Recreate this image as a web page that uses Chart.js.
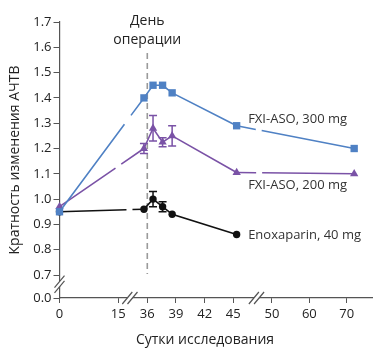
<!DOCTYPE html>
<html>
<head>
<meta charset="utf-8">
<script src="https://cdn.jsdelivr.net/npm/chart.js@4.4.1/dist/chart.umd.min.js"></script>
<style>
  html, body { margin: 0; padding: 0; background: #ffffff; }
  #wrap { width: 380px; height: 355px; position: relative; }
</style>
</head>
<body>
<div id="wrap"><canvas id="c" width="380" height="355"></canvas></div>
<script>
// ---- data ----
const days      = [0, 35.65, 36.6, 37.6, 38.6, 45.35, 72];
const fxi300    = [0.95, 1.40, 1.45, 1.45, 1.42, 1.29, 1.20];
const fxi200    = [0.97, 1.20, 1.28, 1.225, 1.25, 1.105, 1.10];
const fxi200Err = [0, 0.02, 0.05, 0.018, 0.04, 0, 0];
const enoxDays  = [0, 35.65, 36.6, 37.6, 38.6, 45.35];
const enox      = [0.95, 0.96, 1.00, 0.97, 0.94, 0.86];
const enoxErr   = [0, 0, 0.03, 0.02, 0, 0];
const xTicks    = [0, 15, 36, 39, 42, 45, 50, 60, 70];
const yTicks    = [0.0, 0.7, 0.8, 0.9, 1.0, 1.1, 1.2, 1.3, 1.4, 1.5, 1.6, 1.7];
const surgeryDay = 36;
const seriesNames = ['FXI-ASO, 300 mg', 'FXI-ASO, 200 mg', 'Enoxaparin, 40 mg'];
const xTitle = 'Сутки исследования';
const yTitle = 'Кратность изменения АЧТВ';
const surgeryLabel = ['День', 'операции'];

// ---- broken (piecewise linear) scale ----
const SEGMENTS = {
  x: [
    { limit: 26, v0: 0, v1: 15, f0: 0, f1: 0.1877 },
    { limit: 47.5, v0: 36, v1: 45, f0: 0.2803, f1: 0.5549 },
    { limit: Infinity, v0: 60, v1: 70, f0: 0.7976, f1: 0.9170 }
  ],
  y: [
    { limit: 0.35, v0: 0, v1: 0.7, f0: 0, f1: 0.0833 },
    { limit: Infinity, v0: 0.7, v1: 1.7, f0: 0.0833, f1: 1 }
  ]
};
const LinearBase = Chart.LinearScale || Chart.registry.getScale('linear');
class BrokenScale extends LinearBase {
  _segs() { return SEGMENTS[this.id]; }
  _frac(v) {
    const segs = this._segs();
    const s = segs.find(s => v <= s.limit) || segs[segs.length - 1];
    return s.f0 + (v - s.v0) * (s.f1 - s.f0) / (s.v1 - s.v0);
  }
  getPixelForValue(v) {
    const f = this._frac(v);
    return this.isHorizontal() ? this.left + f * this.width : this.bottom - f * this.height;
  }
  getValueForPixel(p) {
    const f = this.isHorizontal() ? (p - this.left) / this.width : (this.bottom - p) / this.height;
    const segs = this._segs();
    for (const s of segs) {
      const v = s.v0 + (f - s.f0) * (s.v1 - s.v0) / (s.f1 - s.f0);
      if (v <= s.limit) return v;
    }
    return NaN;
  }
}
BrokenScale.id = 'broken';
BrokenScale.defaults = LinearBase.defaults;
Chart.register(BrokenScale);

const BLUE = '#4f81c4';
const PURPLE = '#7a52a6';
const BLACK = '#111111';
const AXIS = '#555555';
const TEXT = '#222222';
const FONT = '"Open Sans", "DejaVu Sans", sans-serif';

function toXY(xs, ys) { return xs.map((x, i) => ({ x: x, y: ys[i] })); }
function gapDash(index, dash) {
  return ctx => (ctx.p0DataIndex === index ? dash : undefined);
}

const decorPlugin = {
  id: 'decor',
  beforeDatasetsDraw(chart) {
    const { ctx, scales: { x, y } } = chart;
    const px = x.getPixelForValue(surgeryDay);
    ctx.save();
    ctx.strokeStyle = '#9a9a9a';
    ctx.lineWidth = 1.6;
    ctx.setLineDash([6, 4]);
    ctx.beginPath();
    ctx.moveTo(px, y.top + 31);
    ctx.lineTo(px, y.getPixelForValue(0.7) - 1);
    ctx.stroke();
    ctx.restore();
  },
  afterDatasetsDraw(chart) {
    const { ctx, scales: { x, y } } = chart;
    ctx.save();
    // error bars
    chart.data.datasets.forEach(ds => {
      if (!ds.errs) return;
      ctx.strokeStyle = ds.borderColor;
      ctx.lineWidth = 1.5;
      ds.data.forEach((p, i) => {
        const e = ds.errs[i];
        if (!e) return;
        const cx = x.getPixelForValue(p.x);
        const t = y.getPixelForValue(p.y + e), b = y.getPixelForValue(p.y - e);
        ctx.beginPath();
        ctx.moveTo(cx, t); ctx.lineTo(cx, b);
        ctx.moveTo(cx - 4, t); ctx.lineTo(cx + 4, t);
        ctx.moveTo(cx - 4, b); ctx.lineTo(cx + 4, b);
        ctx.stroke();
      });
    });
    ctx.restore();
  },
  afterDraw(chart) {
    const { ctx, scales: { x, y } } = chart;
    ctx.save();
    // axis breaks
    const slash = (cx, cy, horiz) => {
      const o = 2.6;
      const ox = horiz ? o : 0, oy = horiz ? 0 : o;
      ctx.fillStyle = '#ffffff';
      ctx.beginPath();
      ctx.moveTo(cx - ox - 5, cy - oy + 6);
      ctx.lineTo(cx - ox + 5, cy - oy - 6);
      ctx.lineTo(cx + ox + 5, cy + oy - 6);
      ctx.lineTo(cx + ox - 5, cy + oy + 6);
      ctx.closePath();
      ctx.fill();
      ctx.strokeStyle = AXIS;
      ctx.lineWidth = 1.2;
      ctx.beginPath();
      ctx.moveTo(cx - ox - 5, cy - oy + 6); ctx.lineTo(cx - ox + 5, cy - oy - 6);
      ctx.moveTo(cx + ox - 5, cy + oy + 6); ctx.lineTo(cx + ox + 5, cy + oy - 6);
      ctx.stroke();
    };
    const p15 = x.getPixelForValue(15), p36 = x.getPixelForValue(36);
    const p45 = x.getPixelForValue(45), p50 = x.getPixelForValue(50);
    slash(p15 + 0.4 * (p36 - p15), y.bottom, true);
    slash(p45 + 0.6 * (p50 - p45), y.bottom, true);
    const y0 = y.getPixelForValue(0), y7 = y.getPixelForValue(0.7);
    slash(x.left, y0 + 0.6 * (y7 - y0), false);

    // texts
    ctx.fillStyle = TEXT;
    ctx.textAlign = 'center';
    ctx.textBaseline = 'middle';
    ctx.font = '14px ' + FONT;
    const sx = x.getPixelForValue(surgeryDay);
    ctx.fillText(surgeryLabel[0], sx, 21);
    ctx.fillText(surgeryLabel[1], sx, 40);
    ctx.fillText(xTitle, 205, 340);
    ctx.save();
    ctx.translate(15, 160);
    ctx.rotate(-Math.PI / 2);
    ctx.fillText(yTitle, 0, 0);
    ctx.restore();

    ctx.textAlign = 'left';
    ctx.fillStyle = '#333333';
    ctx.font = '13px ' + FONT;
    const lx = x.getPixelForValue(days[5]) + 11.5;
    ctx.fillText(seriesNames[0], lx, y.getPixelForValue(fxi300[5]) - 6);
    ctx.fillText(seriesNames[1], lx, y.getPixelForValue(fxi200[5]) + 13);
    ctx.fillText(seriesNames[2], lx, y.getPixelForValue(enox[5]) + 1);
    ctx.restore();
  }
};

new Chart(document.getElementById('c'), {
  type: 'line',
  data: {
    datasets: [
      {
        label: seriesNames[0],
        data: toXY(days, fxi300),
        borderColor: BLUE, backgroundColor: BLUE,
        borderWidth: 1.6, pointStyle: 'rect', pointRadius: 5.2, pointBorderWidth: 0,
        order: 0, clip: false,
        segment: { borderDash: ctx => ctx.p0DataIndex === 0 ? [109, 11, 2000] : (ctx.p0DataIndex === 5 ? [19.5, 6, 2000] : undefined) }
      },
      {
        label: seriesNames[1],
        data: toXY(days, fxi200),
        errs: fxi200Err,
        borderColor: PURPLE, backgroundColor: PURPLE,
        borderWidth: 1.6, pointStyle: 'triangle', pointRadius: 4.8, pointBorderWidth: 0,
        order: 1, clip: false,
        segment: { borderDash: ctx => ctx.p0DataIndex === 0 ? [68, 7, 2000] : (ctx.p0DataIndex === 5 ? [19.5, 6, 2000] : undefined) }
      },
      {
        label: seriesNames[2],
        data: toXY(enoxDays, enox),
        errs: enoxErr,
        borderColor: BLACK, backgroundColor: BLACK,
        borderWidth: 1.6, pointStyle: 'circle', pointRadius: 3.7, pointBorderWidth: 0,
        order: 2, clip: false,
        segment: { borderDash: gapDash(0, [67, 6, 2000]) }
      }
    ]
  },
  options: {
    responsive: false,
    animation: false,
    devicePixelRatio: 1,
    layout: { padding: { top: 22, right: 7.3, left: 0, bottom: 0 } },
    plugins: { legend: { display: false }, tooltip: { enabled: false } },
    elements: { line: { tension: 0 } },
    scales: {
      x: {
        type: 'broken',
        min: 0, max: 77,
        afterBuildTicks: s => { s.ticks = xTicks.map(v => ({ value: v })); },
        afterFit: s => { s.height = 57; },
        grid: { drawOnChartArea: false, drawTicks: true, tickLength: 5, color: AXIS, lineWidth: 1 },
        border: { display: true, color: AXIS, width: 1.2 },
        ticks: { autoSkip: false, maxRotation: 0, padding: 3, color: '#222', font: { family: FONT, size: 13 }, callback: v => String(v) }
      },
      y: {
        type: 'broken',
        min: 0, max: 1.7,
        afterBuildTicks: s => { s.ticks = yTicks.map(v => ({ value: v })); },
        afterFit: s => { s.width = 59.5; },
        grid: { drawOnChartArea: false, drawTicks: true, tickLength: 6, color: AXIS, lineWidth: 1 },
        border: { display: true, color: AXIS, width: 1.2 },
        ticks: { padding: 2, color: '#222', font: { family: FONT, size: 13 }, callback: v => Number(v).toFixed(1) }
      }
    }
  },
  plugins: [decorPlugin]
});
</script>
</body>
</html>
